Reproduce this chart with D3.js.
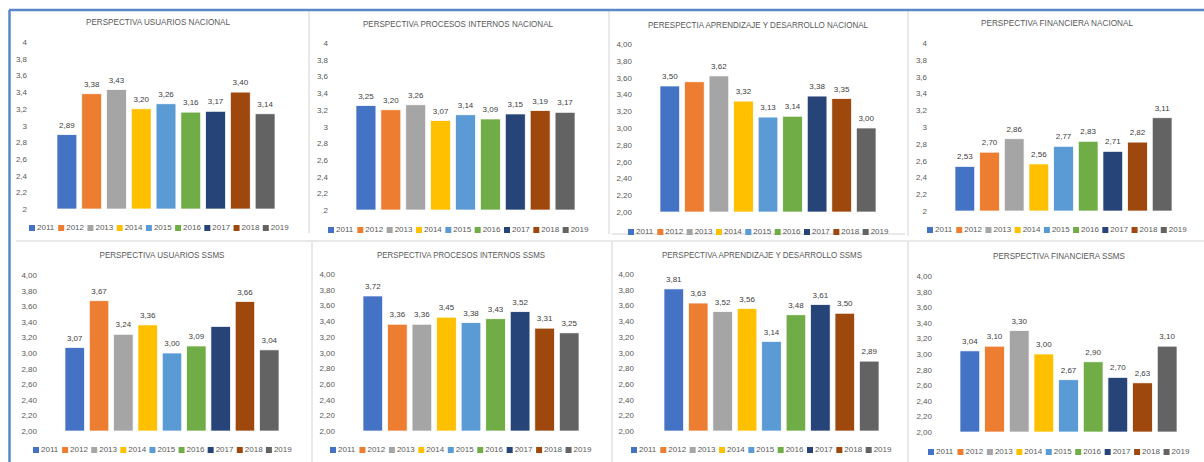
<!DOCTYPE html>
<html>
<head>
<meta charset="utf-8">
<script src="https://cdn.jsdelivr.net/npm/d3@7"></script>
<style>
  body { margin: 0; background: #fff; }
  svg { display: block; font-family: "Liberation Sans", Arial, sans-serif; }
</style>
</head>
<body>
<svg id="chart" width="1204" height="462"></svg>
<script>
// --- Data ---
const years = ["2011", "2012", "2013", "2014", "2015", "2016", "2017", "2018", "2019"];
const yearColors = ["#4472C4", "#ED7D31", "#A5A5A5", "#FFC000", "#5B9BD5", "#70AD47", "#264478", "#9E480E", "#636363"];

const usuariosNacional = [2.89, 3.38, 3.43, 3.20, 3.26, 3.16, 3.17, 3.40, 3.14];
const procesosNacional = [3.25, 3.20, 3.26, 3.07, 3.14, 3.09, 3.15, 3.19, 3.17];
const aprendizajeNacional = [3.50, 3.55, 3.62, 3.32, 3.13, 3.14, 3.38, 3.35, 3.00];
const financieraNacional = [2.53, 2.70, 2.86, 2.56, 2.77, 2.83, 2.71, 2.82, 3.11];
const usuariosSSMS = [3.07, 3.67, 3.24, 3.36, 3.00, 3.09, 3.34, 3.66, 3.04];
const procesosSSMS = [3.72, 3.36, 3.36, 3.45, 3.38, 3.43, 3.52, 3.31, 3.25];
const aprendizajeSSMS = [3.81, 3.63, 3.52, 3.56, 3.14, 3.48, 3.61, 3.50, 2.89];
const financieraSSMS = [3.04, 3.10, 3.30, 3.00, 2.67, 2.90, 2.70, 2.63, 3.10];

// bars without a data label in the original
const sinEtiquetaAprendizajeNacional = ["2012"];
const sinEtiquetaUsuariosSSMS = ["2017"];

const yTicks = [2, 2.2, 2.4, 2.6, 2.8, 3, 3.2, 3.4, 3.6, 3.8, 4];

const locale = d3.formatLocale({ decimal: ",", thousands: ".", grouping: [3], currency: ["", ""] });
const fmtShort = locale.format(".1~f");
const fmtLong = locale.format(".2f");

// --- Panels (layout only) ---
const panels = [
  { title: "PERSPECTIVA USUARIOS NACIONAL", values: usuariosNacional, hide: [], tickFmt: fmtShort,
    x1: 57, x2: 275, yTop: 42, yBot: 209, tickX: 27, titleX: 158, titleW: 144, titleY: 23, legX0: 29, legX1: 292, legY: 228 },
  { title: "PERSPECTIVA PROCESOS INTERNOS NACIONAL", values: procesosNacional, hide: [], tickFmt: fmtShort,
    x1: 356, x2: 575, yTop: 43, yBot: 210, tickX: 328, titleX: 458, titleW: 190, titleY: 25, legX0: 328, legX1: 592, legY: 230 },
  { title: "PERESPECTIA APRENDIZAJE Y DESARROLLO NACIONAL", values: aprendizajeNacional, hide: sinEtiquetaAprendizajeNacional, tickFmt: fmtLong,
    x1: 660, x2: 876, yTop: 44, yBot: 212, tickX: 632, titleX: 758, titleW: 220, titleY: 26, legX0: 628, legX1: 892, legY: 232 },
  { title: "PERSPECTIVA FINANCIERA NACIONAL", values: financieraNacional, hide: [], tickFmt: fmtShort,
    x1: 955, x2: 1172, yTop: 43, yBot: 211, tickX: 927, titleX: 1057, titleW: 152, titleY: 24, legX0: 927, legX1: 1190, legY: 230 },
  { title: "PERSPECTIVA USUARIOS SSMS", values: usuariosSSMS, hide: sinEtiquetaUsuariosSSMS, tickFmt: fmtLong,
    x1: 65, x2: 279, yTop: 275, yBot: 431, tickX: 37, titleX: 162, titleW: 125, titleY: 256, legX0: 33, legX1: 295, legY: 450 },
  { title: "PERSPECTIVA PROCESOS INTERNOS SSMS", values: procesosSSMS, hide: [], tickFmt: fmtLong,
    x1: 363, x2: 579, yTop: 274, yBot: 431, tickX: 335, titleX: 461, titleW: 168, titleY: 256, legX0: 330, legX1: 595, legY: 450 },
  { title: "PERSPECTIVA APRENDIZAJE Y DESARROLLO SSMS", values: aprendizajeSSMS, hide: [], tickFmt: fmtLong,
    x1: 664, x2: 879, yTop: 274, yBot: 431, tickX: 634, titleX: 762, titleW: 200, titleY: 256, legX0: 631, legX1: 895, legY: 450 },
  { title: "PERSPECTIVA FINANCIERA SSMS", values: financieraSSMS, hide: [], tickFmt: fmtLong,
    x1: 960, x2: 1177, yTop: 276, yBot: 432, tickX: 932, titleX: 1059, titleW: 132, titleY: 257, legX0: 928, legX1: 1193, legY: 452 }
];

const svg = d3.select("#chart");

// --- Frame lines of the screenshot ---
const frame = svg.append("g");
[[309, 11, 309, 233], [609, 11, 609, 234], [908, 11, 908, 236],
 [312, 242, 312, 462], [612, 242, 612, 462], [908, 242, 908, 462],
 [612, 234, 905, 234], [16, 241, 1204, 241], [612, 237, 905, 237]].forEach(l => {
  frame.append("line").attr("x1", l[0]).attr("y1", l[1]).attr("x2", l[2]).attr("y2", l[3])
    .attr("stroke", "#e2e2e2").attr("stroke-width", 1.5);
});
frame.append("line").attr("x1", 9).attr("y1", 10).attr("x2", 1204).attr("y2", 10)
  .attr("stroke", "#5b87c9").attr("stroke-width", 2.5);
frame.append("line").attr("x1", 9.5).attr("y1", 10).attr("x2", 9.5).attr("y2", 462)
  .attr("stroke", "#5b87c9").attr("stroke-width", 2.5);

// --- Draw each chart ---
panels.forEach(p => {
  const g = svg.append("g");

  const x = d3.scaleBand().domain(years).range([p.x1, p.x2]).paddingInner(0.2).paddingOuter(0);
  const y = d3.scaleLinear().domain([2, 4]).range([p.yBot, p.yTop]);

  g.append("text")
    .attr("x", p.titleX).attr("y", p.titleY)
    .attr("text-anchor", "middle").attr("dominant-baseline", "middle")
    .attr("font-size", 9).attr("fill", "#595959")
    .attr("textLength", p.titleW).attr("lengthAdjust", "spacingAndGlyphs")
    .text(p.title);

  const axis = g.append("g")
    .attr("transform", `translate(${p.tickX},0)`)
    .call(d3.axisLeft(y).tickValues(yTicks).tickFormat(p.tickFmt).tickSize(0).tickPadding(0));
  axis.select(".domain").remove();
  axis.selectAll("text").attr("font-size", 8).attr("fill", "#595959")
    .attr("font-family", "'Liberation Sans', Arial, sans-serif");

  const data = years.map((yr, i) => ({ year: yr, value: p.values[i], color: yearColors[i] }));

  g.selectAll(".bar")
    .data(data)
    .join("rect")
    .attr("class", "bar")
    .attr("x", d => x(d.year))
    .attr("y", d => y(d.value))
    .attr("width", x.bandwidth())
    .attr("height", d => y(2) - y(d.value))
    .attr("fill", d => d.color)
    .attr("stroke", "#fff").attr("stroke-width", 0.7);

  g.selectAll(".lbl")
    .data(data.filter(d => !p.hide.includes(d.year)))
    .join("text")
    .attr("class", "lbl")
    .attr("x", d => x(d.year) + x.bandwidth() / 2)
    .attr("y", d => y(d.value) - 7)
    .attr("text-anchor", "middle")
    .attr("font-size", 8).attr("fill", "#404040")
    .text(d => fmtLong(d.value));

  // legend
  const lx = d3.scaleBand().domain(years).range([p.legX0, p.legX1]);
  const leg = g.selectAll(".leg")
    .data(data)
    .join("g")
    .attr("class", "leg")
    .attr("transform", d => `translate(${lx(d.year)},${p.legY})`);
  leg.append("rect").attr("x", 0).attr("y", -3).attr("width", 6).attr("height", 6).attr("fill", d => d.color);
  leg.append("text").attr("x", 8).attr("y", 0).attr("dominant-baseline", "middle")
    .attr("font-size", 8).attr("fill", "#595959").text(d => d.year);
});

// clip the cut-off legend of the third chart like the screenshot
svg.append("rect").attr("x", 611).attr("y", 235).attr("width", 296).attr("height", 5).attr("fill", "#fff");
</script>
</body>
</html>
